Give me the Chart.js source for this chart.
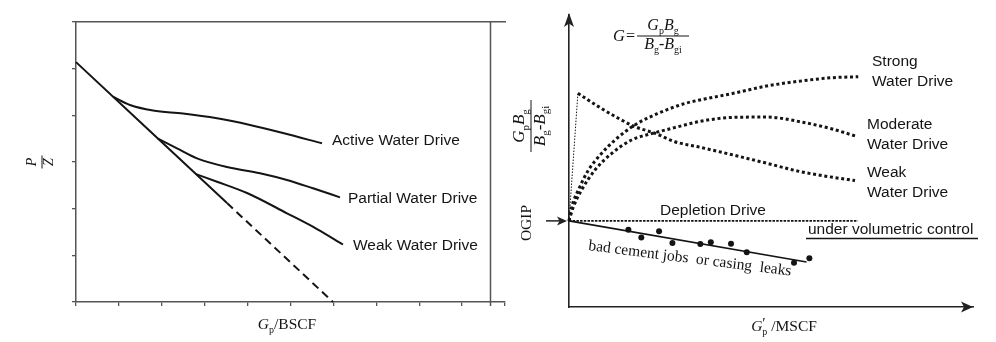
<!DOCTYPE html>
<html>
<head>
<meta charset="utf-8">
<title>P/Z plot and G-plot</title>
<script src="https://cdn.jsdelivr.net/npm/chart.js@4.4.1/dist/chart.umd.min.js"></script>
<style>
  html, body { margin: 0; padding: 0; background: #fff; }
  #wrap { position: relative; width: 996px; height: 342px; overflow: hidden; }
  #pzChart { position: absolute; left: 0; top: 0; }
  #gChart { position: absolute; left: 505px; top: 0; }
</style>
</head>
<body>
<div id="wrap">
  <canvas id="pzChart" width="508" height="342" style="width:508px;height:342px"></canvas>
  <canvas id="gChart" width="491" height="342" style="width:491px;height:342px"></canvas>
</div>
<script>
// ---- left panel: P/Z vs Gp (axis units = tick intervals) ----
const PZ_MAIN_X = [0, 3.52];
const PZ_MAIN_Y = [5.14, 2.12];
const PZ_EXTRAP_X = [3.52, 5.99];
const PZ_EXTRAP_Y = [2.12, 0];
const PZ_ACTIVE_X = [0.862, 1.259, 1.795, 2.494, 3.287, 4.056, 4.825, 5.734];
const PZ_ACTIVE_Y = [4.401, 4.221, 4.103, 4.039, 3.936, 3.793, 3.621, 3.400];
const PZ_PARTIAL_X = [1.911, 2.354, 2.821, 3.520, 4.289, 4.918, 5.524, 6.154];
const PZ_PARTIAL_Y = [3.501, 3.293, 3.079, 2.893, 2.758, 2.614, 2.436, 2.243];
const PZ_WEAK_X = [2.797, 3.287, 3.986, 4.918, 5.618, 6.224];
const PZ_WEAK_Y = [2.741, 2.578, 2.336, 1.901, 1.564, 1.232];
const PZ_FRAME_RIGHT = 9.65;

// ---- right panel: GpBg/(Bg-Bgi) vs Gp' ----
const OGIP = 2.97;
const STRONG_X = [0, 0.07, 0.23, 0.48, 0.81, 1.14, 1.63, 2.21, 2.87, 3.24, 4.07, 4.89, 5.72, 6.54, 7.16];
const STRONG_Y = [OGIP, 3.46, 4.03, 4.72, 5.30, 5.76, 6.28, 6.68, 7.02, 7.14, 7.37, 7.62, 7.79, 7.91, 7.94];
const MODERATE_X = [0, 0.11, 0.31, 0.64, 1.06, 1.55, 2.13, 2.71, 3.24, 4.07, 4.89, 5.72, 6.54, 7.08];
const MODERATE_Y = [OGIP, 3.46, 4.03, 4.72, 5.30, 5.76, 6.01, 6.22, 6.40, 6.54, 6.55, 6.39, 6.13, 5.90];
const WEAK_RISE_X = [0, 0.22];
const WEAK_RISE_Y = [OGIP, 7.37];
const WEAK_X = [0.22, 0.73, 1.22, 1.63, 2.13, 2.62, 3.24, 4.07, 4.89, 5.72, 6.54, 7.08];
const WEAK_Y = [7.37, 6.91, 6.51, 6.22, 5.99, 5.70, 5.51, 5.24, 4.96, 4.67, 4.47, 4.36];
const DEPLETION_X = [0, 7.15];
const DEPLETION_Y = [OGIP, OGIP];
const LEAK_LINE_X = [0, 5.88];
const LEAK_LINE_Y = [OGIP, 1.55];
const LEAK_PTS_X = [1.47, 1.79, 2.23, 2.56, 3.25, 3.51, 4.01, 4.40, 5.57, 5.95];
const LEAK_PTS_Y = [2.66, 2.40, 2.61, 2.21, 2.17, 2.23, 2.18, 1.89, 1.53, 1.68];

const INK = '#141414';
const FRAME = '#555';
const SANS = '"Liberation Sans", Arial, sans-serif';
const SERIF = '"Liberation Serif", "Times New Roman", serif';

function pts(xs, ys) {
  return xs.map((x, i) => ({ x, y: ys[i] }));
}

// little helpers for the serif math labels
function partFont(k, size) {
  if (k === 'i') return `italic ${size}px ${SERIF}`;
  if (k === 's') return `${Math.round(size * 0.62)}px ${SERIF}`;
  return `${size}px ${SERIF}`;
}

function runWidth(ctx, parts, size) {
  let w = 0;
  for (const [t, k] of parts) {
    ctx.font = partFont(k, size);
    if (k !== 'x') w += ctx.measureText(t).width;
  }
  return w;
}

function drawRun(ctx, parts, x, y, size, align) {
  let cx = align === 'center' ? x - runWidth(ctx, parts, size) / 2 : x;
  ctx.textAlign = 'left';
  ctx.textBaseline = 'alphabetic';
  for (const [t, k] of parts) {
    ctx.font = partFont(k, size);
    const dy = k === 's' ? size * 0.28 : (k === 'x' ? -size * 0.2 : 0);
    ctx.fillText(t, cx, y + dy);
    if (k !== 'x') cx += ctx.measureText(t).width;
  }
}

function drawFraction(ctx, num, den, cx, cy, size, barLen) {
  ctx.lineWidth = 1;
  ctx.beginPath();
  ctx.moveTo(cx - barLen / 2, cy);
  ctx.lineTo(cx + barLen / 2, cy);
  ctx.stroke();
  drawRun(ctx, num, cx, cy - size * 0.4, size, 'center');
  drawRun(ctx, den, cx, cy + size * 0.8, size, 'center');
}

function arrowHead(ctx, tipX, tipY, dirX, dirY, len, half) {
  const bx = tipX - dirX * len, by = tipY - dirY * len;
  const nx = -dirY, ny = dirX;
  ctx.beginPath();
  ctx.moveTo(tipX, tipY);
  ctx.lineTo(bx + nx * half, by + ny * half);
  ctx.lineTo(tipX - dirX * len * 0.75, tipY - dirY * len * 0.75);
  ctx.lineTo(bx - nx * half, by - ny * half);
  ctx.closePath();
  ctx.fill();
}

const hidden = { legend: { display: false }, tooltip: { enabled: false } };

// ---------- left chart ----------
const leftDeco = {
  id: 'leftDeco',
  afterDraw(chart) {
    const { ctx, scales: { x, y } } = chart;
    ctx.save();
    ctx.strokeStyle = FRAME;
    ctx.lineWidth = 1.5;
    const fx = Math.round(x.getPixelForValue(PZ_FRAME_RIGHT)) + 0.5;
    ctx.beginPath();
    ctx.moveTo(fx, y.top);
    ctx.lineTo(fx, y.bottom + 4);
    ctx.stroke();

    ctx.fillStyle = INK;
    ctx.font = `15.5px ${SANS}`;
    ctx.textAlign = 'left';
    ctx.textBaseline = 'middle';
    ctx.fillText('Active Water Drive', 332, 141);
    ctx.fillText('Partial Water Drive', 348, 199);
    ctx.fillText('Weak Water Drive', 353, 246);

    // x title
    drawRun(ctx, [['G', 'i'], ['p', 's'], ['/BSCF', 'r']], 287, 329, 15.5, 'center');

    // y title P/Z, rotated
    ctx.strokeStyle = INK;
    ctx.translate(42, 162);
    ctx.rotate(-Math.PI / 2);
    drawFraction(ctx, [['P', 'i']], [['Z', 'i']], 0, 0, 14, 13);
    ctx.restore();
  }
};

new Chart(document.getElementById('pzChart'), {
  type: 'scatter',
  data: {
    datasets: [
      { label: 'Depletion', data: pts(PZ_MAIN_X, PZ_MAIN_Y) },
      { label: 'Depletion (extrapolated)', data: pts(PZ_EXTRAP_X, PZ_EXTRAP_Y), borderDash: [8, 5] },
      { label: 'Active Water Drive', data: pts(PZ_ACTIVE_X, PZ_ACTIVE_Y) },
      { label: 'Partial Water Drive', data: pts(PZ_PARTIAL_X, PZ_PARTIAL_Y) },
      { label: 'Weak Water Drive', data: pts(PZ_WEAK_X, PZ_WEAK_Y) },
    ].map(d => Object.assign({
      showLine: true,
      borderColor: INK,
      borderWidth: 2,
      pointRadius: 0,
      cubicInterpolationMode: 'monotone',
      clip: false,
    }, d)),
  },
  options: {
    responsive: false,
    animation: false,
    layout: { padding: { top: 22, right: 3, bottom: 0, left: 0 } },
    plugins: hidden,
    scales: {
      x: {
        type: 'linear', min: 0, max: 10,
        afterFit: s => { s.height = 40; },
        ticks: { display: false, stepSize: 1 },
        grid: { drawOnChartArea: false, tickLength: 4, color: FRAME, lineWidth: 1.3 },
        border: { color: FRAME, width: 1.5 },
      },
      x2: {
        type: 'linear', position: 'top', min: 0, max: 10,
        afterFit: s => { s.height = 0; },
        ticks: { display: false },
        grid: { display: false },
        border: { color: FRAME, width: 1.5 },
      },
      y: {
        type: 'linear', min: 0, max: 6,
        afterFit: s => { s.width = 76; },
        ticks: { display: false, stepSize: 1 },
        grid: { drawOnChartArea: false, tickLength: 4, color: FRAME, lineWidth: 1.3 },
        border: { color: FRAME, width: 1.5 },
      },
    },
  },
  plugins: [leftDeco],
});

// ---------- right chart ----------
const OFF = 505; // page x of the right canvas

const rightDeco = {
  id: 'rightDeco',
  afterDraw(chart) {
    const { ctx, chartArea: a, scales: { y } } = chart;
    ctx.save();
    ctx.translate(-OFF, 0);
    const L = a.left + OFF, R = a.right + OFF;
    ctx.fillStyle = '#222';
    ctx.strokeStyle = '#222';
    arrowHead(ctx, L, a.top - 2, 0, -1, 14, 5);
    arrowHead(ctx, R, a.bottom, 1, 0, 12, 5.5);

    // OGIP arrow
    const oy = y.getPixelForValue(OGIP);
    ctx.lineWidth = 1.5;
    ctx.beginPath();
    ctx.moveTo(546, oy);
    ctx.lineTo(560, oy);
    ctx.stroke();
    arrowHead(ctx, L - 2, oy, 1, 0, 10, 4.5);

    ctx.fillStyle = INK;
    ctx.strokeStyle = INK;
    ctx.font = `15.5px ${SANS}`;
    ctx.textAlign = 'left';
    ctx.textBaseline = 'middle';
    ctx.fillText('Strong', 872, 62);
    ctx.fillText('Water Drive', 872, 82);
    ctx.fillText('Moderate', 867, 125);
    ctx.fillText('Water Drive', 867, 145);
    ctx.fillText('Weak', 867, 173);
    ctx.fillText('Water Drive', 867, 193);
    ctx.textAlign = 'center';
    ctx.fillText('Depletion Drive', 713, 211);
    ctx.textAlign = 'left';
    ctx.fillText('under volumetric control', 808, 230);
    ctx.lineWidth = 1.5;
    ctx.beginPath();
    ctx.moveTo(806, 238.5);
    ctx.lineTo(978, 238.5);
    ctx.stroke();

    // sloped note along the leak trend
    ctx.save();
    ctx.translate(588, 250);
    ctx.rotate(7.2 * Math.PI / 180);
    ctx.font = `15.5px ${SERIF}`;
    ctx.textBaseline = 'alphabetic';
    ctx.fillText('bad cement jobs  or casing  leaks', 0, 0);
    ctx.restore();

    // formula at the top
    drawRun(ctx, [['G', 'i']], 613, 41, 16.5, 'left');
    ctx.font = `16px ${SERIF}`;
    ctx.fillText('=', 626, 41);
    drawFraction(ctx,
      [['G', 'i'], ['p', 's'], ['B', 'i'], ['g', 's']],
      [['B', 'i'], ['g', 's'], ['-', 'r'], ['B', 'i'], ['gi', 's']],
      663, 36, 16, 52);

    // x title
    drawRun(ctx, [['G', 'i'], ['\u2032', 'x'], ['p', 's'], [' /MSCF', 'r']], 784, 331, 15.5, 'center');

    // OGIP, rotated
    ctx.save();
    ctx.translate(527, 223);
    ctx.rotate(-Math.PI / 2);
    ctx.font = `15.5px ${SERIF}`;
    ctx.textAlign = 'center';
    ctx.textBaseline = 'middle';
    ctx.fillText('OGIP', 0, 0);
    ctx.restore();

    // y title fraction, rotated
    ctx.translate(531, 126);
    ctx.rotate(-Math.PI / 2);
    drawFraction(ctx,
      [['G', 'i'], ['p', 's'], ['B', 'i'], ['g', 's']],
      [['B', 'i'], ['g', 's'], ['-', 'r'], ['B', 'i'], ['gi', 's']],
      0, 0, 17, 52);
    ctx.restore();
  }
};

const dotted = { borderWidth: 3, borderDash: [3, 2.7], borderCapStyle: 'butt' };

new Chart(document.getElementById('gChart'), {
  type: 'scatter',
  data: {
    datasets: [
      Object.assign({ label: 'Strong Water Drive', data: pts(STRONG_X, STRONG_Y) }, dotted),
      Object.assign({ label: 'Moderate Water Drive', data: pts(MODERATE_X, MODERATE_Y) }, dotted),
      Object.assign({ label: 'Weak Water Drive', data: pts(WEAK_X, WEAK_Y) }, dotted),
      { label: 'Weak (early)', data: pts(WEAK_RISE_X, WEAK_RISE_Y), borderWidth: 1, borderDash: [1.5, 1.5] },
      { label: 'Depletion Drive', data: pts(DEPLETION_X, DEPLETION_Y), borderWidth: 1.6, borderDash: [2.5, 1.2] },
      { label: 'Leak trend', data: pts(LEAK_LINE_X, LEAK_LINE_Y), borderWidth: 1.6, cubicInterpolationMode: 'default' },
      { label: 'Leak data', data: pts(LEAK_PTS_X, LEAK_PTS_Y), showLine: false, pointRadius: 3, pointBackgroundColor: INK, pointBorderWidth: 0 },
    ].map(d => Object.assign({
      showLine: true,
      borderColor: INK,
      pointRadius: 0,
      cubicInterpolationMode: 'monotone',
      clip: false,
    }, d)),
  },
  options: {
    responsive: false,
    animation: false,
    layout: { padding: { top: 15, right: 23, bottom: 0, left: 0 } },
    plugins: hidden,
    scales: {
      x: {
        type: 'linear', min: 0, max: 10,
        afterFit: s => { s.height = 35; },
        ticks: { display: false },
        grid: { display: false },
        border: { color: '#222', width: 1.6 },
      },
      y: {
        type: 'linear', min: 0, max: 10.07,
        afterFit: s => { s.width = 64; },
        ticks: { display: false },
        grid: { display: false },
        border: { color: '#222', width: 1.6 },
      },
    },
  },
  plugins: [rightDeco],
});
</script>
</body>
</html>
